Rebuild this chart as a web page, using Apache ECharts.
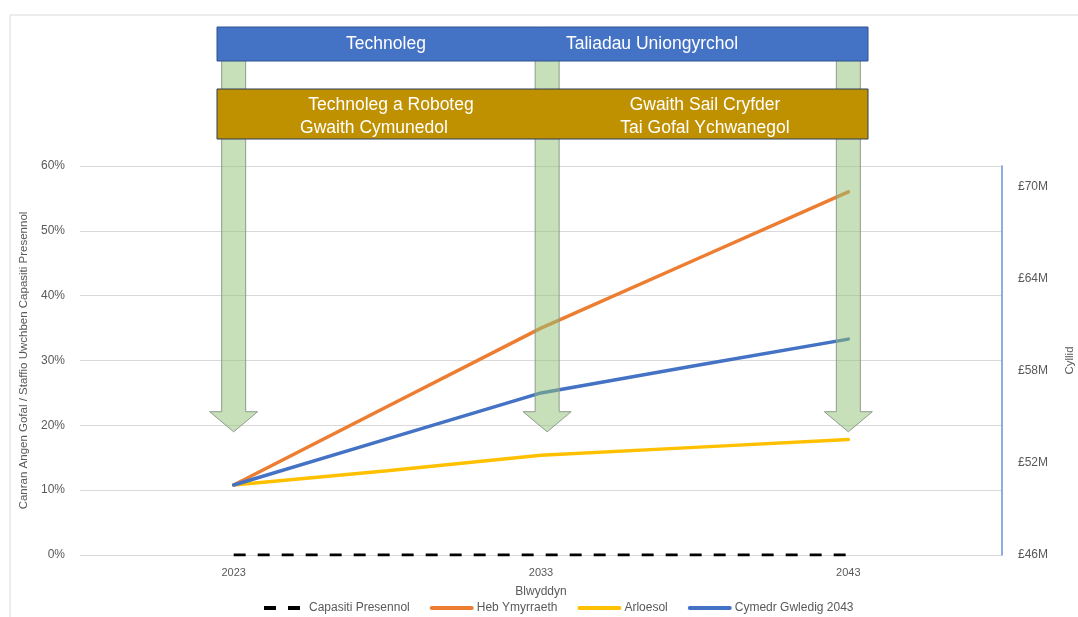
<!DOCTYPE html>
<html>
<head>
<meta charset="utf-8">
<script src="https://cdn.jsdelivr.net/npm/echarts@6/dist/echarts.min.js"></script>
<style>
html, body { margin: 0; padding: 0; background: #fff; }
#chart { width: 1078px; height: 617px; }
</style>
</head>
<body>
<div id="chart"></div>
<script>
// data (percent above current capacity)
var years = [2023, 2028, 2033, 2038, 2043];
var capasitiPresennol = [0, 0, 0, 0, 0];
var hebYmyrraeth = [10.8, 22.9, 35.0, 45.5, 56.0];
var arloesol = [10.8, 13.0, 15.4, 16.6, 17.8];
var cymedrGwledig = [10.8, 17.9, 25.0, 29.2, 33.3];

var yearTicks = [2023, 2033, 2043];
var budgetTicks = [46, 52, 58, 64, 70];
var arrowYears = [2023, 2033.2, 2043];

var FONT = 'Liberation Sans';
var GREY = '#595959';

function pairs(vals) {
    return years.map(function (y, i) { return [y, vals[i]]; });
}

var myChart = echarts.init(document.getElementById('chart'));

var option = {
    animation: false,
    textStyle: { fontFamily: FONT },
    grid: { left: 80, right: 76, top: 166, bottom: 62, outerBoundsMode: 'none' },
    legend: {
        left: 257,
        top: 597,
        itemWidth: 40,
        itemHeight: 14,
        itemGap: 20,
        itemStyle: { opacity: 0 },
        lineStyle: { width: 4 },
        textStyle: { fontSize: 12, color: GREY, fontFamily: FONT },
        data: ['Capasiti Presennol', 'Heb Ymyrraeth', 'Arloesol', 'Cymedr Gwledig 2043']
    },
    xAxis: {
        type: 'value',
        min: 2018,
        max: 2048,
        name: 'Blwyddyn',
        nameLocation: 'middle',
        nameGap: 31,
        nameTextStyle: { fontSize: 12, color: GREY },
        axisLine: { show: false },
        axisTick: { show: false },
        splitLine: { show: false },
        axisLabel: {
            customValues: yearTicks,
            margin: 12,
            fontSize: 11,
            color: GREY,
            formatter: function (v) { return String(v); }
        }
    },
    yAxis: [{
        type: 'value',
        min: 0,
        max: 60,
        interval: 10,
        position: 'left',
        name: 'Canran Angen Gofal / Staffio Uwchben Capasiti Presennol',
        nameLocation: 'middle',
        nameGap: 39,
        nameTextStyle: { fontSize: 11.5, color: GREY },
        axisLine: { show: false },
        axisTick: { show: false },
        axisLabel: { formatter: '{value}%', fontSize: 12, color: GREY, margin: 15 },
        splitLine: { lineStyle: { color: '#d9d9d9', width: 1 } }
    }, {
        type: 'value',
        min: 46,
        max: 71.37,
        position: 'right',
        name: 'Cyllid',
        nameLocation: 'middle',
        nameGap: 62,
        nameTextStyle: { fontSize: 11.5, color: GREY },
        axisLine: { show: true, lineStyle: { color: '#6b8fd4', width: 1.5 } },
        axisTick: { show: false },
        splitLine: { show: false },
        axisLabel: {
            customValues: budgetTicks,
            formatter: '£{value}M',
            fontSize: 12,
            color: GREY,
            margin: 16
        }
    }],
    series: [{
        name: 'Capasiti Presennol',
        type: 'line',
        data: pairs(capasitiPresennol),
        symbol: 'none',
        itemStyle: { color: '#000000' },
        lineStyle: { color: '#000000', width: 3, type: [12, 12] },
        z: 3
    }, {
        name: 'Heb Ymyrraeth',
        type: 'line',
        data: pairs(hebYmyrraeth),
        symbol: 'none',
        itemStyle: { color: '#ED7D31' },
        lineStyle: { color: '#ED7D31', width: 3.5, cap: 'round' },
        z: 3
    }, {
        name: 'Arloesol',
        type: 'line',
        data: pairs(arloesol),
        symbol: 'none',
        itemStyle: { color: '#FFC000' },
        lineStyle: { color: '#FFC000', width: 3.5, cap: 'round' },
        z: 3
    }, {
        name: 'Cymedr Gwledig 2043',
        type: 'line',
        data: pairs(cymedrGwledig),
        symbol: 'none',
        itemStyle: { color: '#4472C4' },
        lineStyle: { color: '#4472C4', width: 3.5, cap: 'round' },
        z: 3
    }]
};

myChart.setOption(option);

// annotation shapes: arrows, label boxes, chart-area border
function arrowAt(year) {
    var x = myChart.convertToPixel({ xAxisIndex: 0 }, year);
    var headTop = myChart.convertToPixel({ yAxisIndex: 0 }, 22.1);
    var tip = myChart.convertToPixel({ yAxisIndex: 0 }, 19.0);
    return {
        type: 'polygon',
        z: 50,
        shape: {
            points: [
                [x - 12, 30], [x + 12, 30], [x + 12, headTop], [x + 24, headTop],
                [x, tip], [x - 24, headTop], [x - 12, headTop]
            ]
        },
        style: { fill: 'rgba(145,193,117,0.5)', stroke: '#8c9c8c', lineWidth: 1 }
    };
}

var boxText = { fill: '#ffffff', fontSize: 17.5, fontFamily: FONT };
var graphics = [{
    type: 'rect',
    z: -1,
    shape: { x: 10, y: 15, width: 1100, height: 700 },
    style: { fill: 'none', stroke: '#d9d9d9', lineWidth: 1 }
}];
arrowYears.forEach(function (y) { graphics.push(arrowAt(y)); });
graphics.push({
    type: 'rect', z: 60,
    shape: { x: 217, y: 27, width: 651, height: 34 },
    style: { fill: '#4472C4', stroke: '#2F528F', lineWidth: 1 }
}, {
    type: 'rect', z: 60,
    shape: { x: 217, y: 89, width: 651, height: 50 },
    style: { fill: '#BF9000', stroke: '#2F3F5F', lineWidth: 1 }
}, {
    type: 'text', z: 61, x: 386, y: 44,
    style: Object.assign({ text: 'Technoleg', align: 'center', verticalAlign: 'middle' }, boxText)
}, {
    type: 'text', z: 61, x: 652, y: 44,
    style: Object.assign({ text: 'Taliadau Uniongyrchol', align: 'center', verticalAlign: 'middle' }, boxText)
}, {
    type: 'text', z: 61, x: 391, y: 105,
    style: Object.assign({ text: 'Technoleg a Roboteg', align: 'center', verticalAlign: 'middle' }, boxText)
}, {
    type: 'text', z: 61, x: 374, y: 128,
    style: Object.assign({ text: 'Gwaith Cymunedol', align: 'center', verticalAlign: 'middle' }, boxText)
}, {
    type: 'text', z: 61, x: 705, y: 105,
    style: Object.assign({ text: 'Gwaith Sail Cryfder', align: 'center', verticalAlign: 'middle' }, boxText)
}, {
    type: 'text', z: 61, x: 705, y: 128,
    style: Object.assign({ text: 'Tai Gofal Ychwanegol', align: 'center', verticalAlign: 'middle' }, boxText)
});

myChart.setOption({ graphic: graphics });
</script>
</body>
</html>
